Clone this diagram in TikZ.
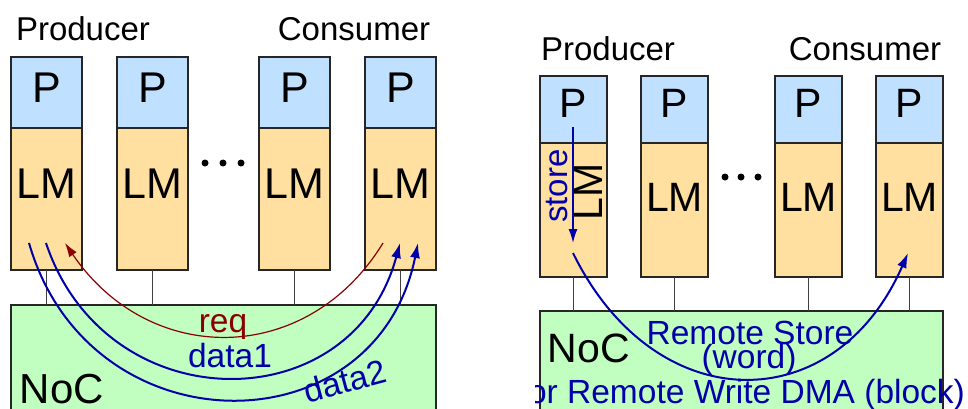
\documentclass[tikz,border=0pt]{standalone}
\usepackage{fontspec}
\setmainfont{Liberation Sans}
\usetikzlibrary{arrows.meta}
\definecolor{pfill}{RGB}{191,224,255}
\definecolor{lmfill}{RGB}{255,224,160}
\definecolor{nocfill}{RGB}{192,255,192}
\definecolor{flowblue}{RGB}{0,0,170}
\definecolor{reqred}{RGB}{136,0,0}
\newcommand{\fsz}[1]{\fontsize{#1}{#1}\selectfont}
\begin{document}
\begin{tikzpicture}[x=1pt,y=-1pt,
  box/.style={draw=black!85, line width=1.5pt, inner sep=0pt, outer sep=0pt},
  pbox/.style={box, fill=pfill},
  lmbox/.style={box, fill=lmfill},
  nocbox/.style={box, fill=nocfill},
  txt/.style={inner sep=0pt, outer sep=0pt, anchor=base},
  link/.style={draw=black!75, line width=1pt},
  flow/.style={flowblue, line width=2pt, -{Latex[length=15pt,width=10pt]}},
  reqflow/.style={reqred, line width=1.2pt, -{Latex[length=14pt,width=9pt]}},
  lbl/.style={txt, font=\fsz{33.5}},
  dot/.style={fill=black}]
\useasboundingbox (0,0) rectangle (968,408);
\clip (0,0) rectangle (968,408);

% ---------------- left panel ----------------
\node[txt, font=\fsz{33}] (lprod) at (83,40) {Producer};
\node[txt, font=\fsz{33}] (lcons) at (354,40) {Consumer};

\foreach \i/\cx in {1/46.5,2/152.5,3/294.5,4/400.5}{
  \node[pbox, minimum width=71pt, minimum height=71pt] (lp\i) at (\cx,92.5) {};
  \node[lmbox, minimum width=71pt, minimum height=142pt] (llm\i) at (\cx,199) {};
  \node[txt, font=\fsz{43}] (lpt\i) at (\cx,102) {P};
  \node[txt, font=\fsz{43}] (llmt\i) at (\cx,198) {LM};
}
\fill[dot] (205,163) circle (3.5);
\fill[dot] (223,163) circle (3.5);
\fill[dot] (241,163) circle (3.5);

\path[nocbox] (11,305) rectangle (436,440);
\coordinate (lnoctop) at (0,305);
\foreach \i in {1,2,3,4}{
  \draw[link] (llm\i.south) -- (llm\i.south |- lnoctop);
}
\node[txt, font=\fsz{42}] (lnoc) at (62,403) {NoC};

\coordinate (reqs) at (383,243);
\coordinate (reqe) at (65,243);
\coordinate (d1s) at (46,243);
\coordinate (d1e) at (400,243);
\coordinate (d2s) at (29,243);
\coordinate (d2e) at (418,243);
\draw[reqflow] (reqs) .. controls (307,367) and (149,367) .. (reqe);
\draw[flow] (d1s) .. controls (106,422) and (352,422) .. (d1e);
\draw[flow] (d2s) .. controls (89,451) and (376,451) .. (d2e);

\node[lbl, reqred] (lreq) at (223,332) {req};
\node[lbl, flowblue] (ldata1) at (230,367) {data1};
\node[inner sep=0pt, font=\fsz{33.5}, flowblue, rotate=15] (ldata2) at (345,381) {data2};

% ---------------- right panel ----------------
\node[txt, font=\fsz{33}] (rprod) at (608,60) {Producer};
\node[txt, font=\fsz{33}] (rcons) at (865,60) {Consumer};

\foreach \i/\cx in {1/573.5,2/674.5,3/808.5,4/909.5}{
  \node[pbox, minimum width=67pt, minimum height=67pt] (rp\i) at (\cx,109.5) {};
  \node[lmbox, minimum width=67pt, minimum height=134pt] (rlm\i) at (\cx,210) {};
  \node[txt, font=\fsz{41}] (rpt\i) at (\cx,117) {P};
}
\foreach \i in {2,3,4}{
  \node[txt, font=\fsz{41}] (rlmt\i) at (rlm\i.center |- 0,211) {LM};
}
\node[inner sep=0pt, font=\fsz{41}, rotate=90] (rlmt1) at (588,192) {LM};
\fill[dot] (725,177) circle (3.5);
\fill[dot] (741,177) circle (3.5);
\fill[dot] (758,177) circle (3.5);

\path[nocbox] (540,311) rectangle (943,440);
\coordinate (rnoctop) at (0,311);
\foreach \i in {1,2,3,4}{
  \draw[link] (rlm\i.south) -- (rlm\i.south |- rnoctop);
}
\node[txt, font=\fsz{41}] (rnoc) at (589,362) {NoC};

\coordinate (sts) at (573,127);
\coordinate (ste) at (573,243);
\coordinate (rss) at (573,253);
\coordinate (rse) at (908,253);
\draw[flowblue, line width=1.5pt, -{Latex[length=14pt,width=9pt]}] (sts) -- (ste);
\draw[flow] (rss) .. controls (655,420) and (835,420) .. (rse);

\node[inner sep=0pt, font=\fsz{33}, flowblue, rotate=90] (rstore) at (557,186) {store};
\node[lbl, flowblue] (rrs) at (750,344) {Remote Store};
\node[lbl, flowblue] (rword) at (749,368) {(word)};
\begin{scope}
  \clip (535,0) rectangle (968,408);
  \node[lbl, flowblue] (rdma) at (746.5,403) {or Remote Write DMA (block)};
\end{scope}
\end{tikzpicture}
\end{document}
